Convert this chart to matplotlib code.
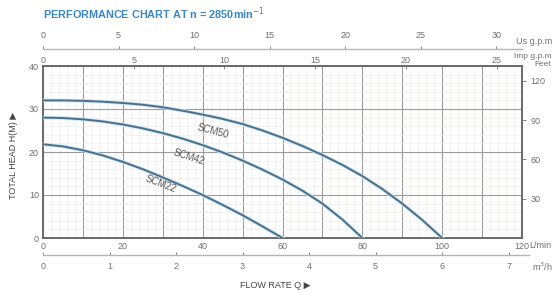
import matplotlib
matplotlib.use("Agg")
import matplotlib.pyplot as plt
import matplotlib.patheffects as pe
import numpy as np

plt.rcParams["font.family"] = ["Liberation Sans", "DejaVu Sans"]

# -- data (flow in L/min, head in m) --
q_scm50 = [0, 5, 10, 15, 20, 25, 30, 35, 40, 45, 50, 55, 60, 65, 70, 75, 80, 85, 90, 95, 100]
h_scm50 = [32, 32, 31.9, 31.7, 31.4, 31, 30.4, 29.6, 28.7, 27.7, 26.5, 25, 23.3, 21.4, 19.3, 17, 14.4, 11.4, 8, 4.2, 0]

q_scm42 = [0, 5, 10, 15, 20, 25, 30, 35, 40, 45, 50, 55, 60, 65, 70, 75, 80]
h_scm42 = [28, 27.9, 27.6, 27.1, 26.4, 25.5, 24.4, 23.1, 21.6, 19.9, 18, 15.9, 13.6, 11, 8, 4.3, 0]

q_scm22 = [0, 5, 10, 15, 20, 25, 30, 35, 40, 45, 50, 55, 60]
h_scm22 = [21.8, 21.3, 20.4, 19.2, 17.7, 16, 14.1, 12.1, 10, 7.7, 5.3, 2.7, 0]

curve_names = ["SCM50", "SCM42", "SCM22"]
label_pos = [(42.5, 24.9), (36.5, 18.7), (29.5, 12.5)]
label_rot = [-15, -18, -21]

lmin_ticks = [0, 20, 40, 60, 80, 100, 120]
head_ticks = [0, 10, 20, 30, 40]
feet_ticks = [30, 60, 90, 120]
usgpm_ticks = [0, 5, 10, 15, 20, 25, 30]
impgpm_ticks = [0, 5, 10, 15, 20, 25]
m3h_ticks = [0, 1, 2, 3, 4, 5, 6, 7]

US_GAL = 3.78541
IMP_GAL = 4.54609
FT = 3.28084

tick_col = "#707070"
fs = 6.5

fig = plt.figure(figsize=(5.58, 2.93), dpi=100)
ax = fig.add_axes([43 / 558, 55 / 293, 479 / 558, 172 / 293])

ax.set_xlim(0, 120)
ax.set_ylim(0, 40)
ax.set_xticks(np.arange(0, 121, 10))
ax.set_xticks(np.arange(0, 121, 2), minor=True)
ax.set_yticks(head_ticks)
ax.set_yticks(np.arange(0, 41, 2), minor=True)
ax.grid(which="minor", color="#efe9e9", lw=0.45)
ax.grid(which="major", color="#9c9c9c", lw=0.8)
ax.set_axisbelow(True)
ax.set_xticklabels([str(t) if t in lmin_ticks else "" for t in np.arange(0, 121, 10)])
ax.tick_params(which="both", length=0, labelsize=fs, labelcolor=tick_col, pad=3)
for s in ax.spines.values():
    s.set_color("#6a6a6a")
    s.set_linewidth(1.4)

halo = [pe.Stroke(linewidth=2.6, foreground="#c6e6f6"), pe.Normal()]
for q, h in [(q_scm50, h_scm50), (q_scm42, h_scm42), (q_scm22, h_scm22)]:
    ax.plot(q, h, color="#4f6f88", lw=1.4, path_effects=halo, zorder=3,
            solid_joinstyle="round")

for name, (x, y), r in zip(curve_names, label_pos, label_rot):
    ax.text(x, y, name, rotation=r, fontsize=7, color="#555555",
            ha="center", va="center", zorder=4)

# Imp g.p.m on the top frame
imp = ax.secondary_xaxis("top", functions=(lambda x: x / IMP_GAL, lambda x: x * IMP_GAL))
imp.set_xticks(impgpm_ticks)
imp.tick_params(length=2, width=0.6, colors=tick_col, labelsize=fs, pad=1, direction="in")
imp.spines["top"].set_visible(False)

# Us g.p.m line above
us = ax.secondary_xaxis(1.1, functions=(lambda x: x / US_GAL, lambda x: x * US_GAL))
us.set_xticks(usgpm_ticks)
us.tick_params(length=2.5, width=0.6, colors=tick_col, labelsize=fs, pad=4)
us.spines["top"].set_color("#b5b5b5")
us.spines["top"].set_linewidth(1.0)
us.spines["top"].set_bounds(0, 31.7)

# m3/h line below
m3 = ax.secondary_xaxis(-0.1, functions=(lambda x: x * 0.06, lambda x: x / 0.06))
m3.set_xticks(m3h_ticks)
m3.tick_params(length=2.5, width=0.6, colors=tick_col, labelsize=fs, pad=5, direction="in")
m3.spines["bottom"].set_color("#b5b5b5")
m3.spines["bottom"].set_linewidth(1.0)
m3.spines["bottom"].set_bounds(0, 7.3)

# feet on the right
ft = ax.secondary_yaxis("right", functions=(lambda y: y * FT, lambda y: y / FT))
ft.set_yticks(feet_ticks)
ft.tick_params(length=3, width=0.6, colors=tick_col, labelsize=fs, pad=3)
ft.spines["right"].set_visible(False)

fig.text(43 / 558, 1 - 14 / 293, "PERFORMANCE CHART AT n = 2850min$^{-1}$",
         fontsize=7.8, fontweight="bold", color="#3a86c4", va="center", ha="left")
fig.text(540 / 558, 1 - 245 / 293, "L/min", fontsize=fs, color=tick_col, ha="center", va="center")
fig.text(542 / 558, 1 - 267 / 293, "m$^3$/h", fontsize=fs, color=tick_col, ha="center", va="center")
fig.text(534 / 558, 1 - 42 / 293, "Us g.p.m", fontsize=fs, color=tick_col, ha="center", va="center")
fig.text(533 / 558, 1 - 56 / 293, "Imp g.p.m", fontsize=6, color=tick_col, ha="center", va="center")
fig.text(543 / 558, 1 - 65 / 293, "Feet", fontsize=6, color=tick_col, ha="center", va="center")
fig.text(14 / 558, 1 - 155 / 293, "TOTAL HEAD H(M) \u25B6", rotation=90, fontsize=fs,
         color="#444444", ha="center", va="center")
fig.text(275 / 558, 1 - 286 / 293, "FLOW RATE Q \u25B6", fontsize=fs,
         color="#444444", ha="center", va="center")

fig.savefig("out.png", dpi=100, facecolor="white")
